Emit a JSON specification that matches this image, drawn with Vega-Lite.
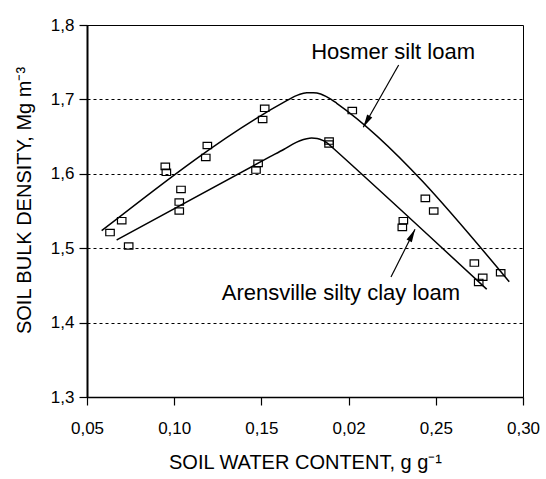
{
  "$schema": "https://vega.github.io/schema/vega-lite/v6.json",
  "width": 436,
  "height": 372,
  "autosize": "none",
  "padding": {"left": 87, "top": 25, "right": 23, "bottom": 82},
  "background": "white",
  "config": {
    "view": {"stroke": "#000", "strokeWidth": 1},
    "font": "Liberation Sans"
  },
  "datasets": {
    "pts": [
      {"soil": "Hosmer", "wc": 0.0632, "bd": 1.521},
      {"soil": "Hosmer", "wc": 0.0699, "bd": 1.537},
      {"soil": "Arensville", "wc": 0.0739, "bd": 1.503},
      {"soil": "Hosmer", "wc": 0.0949, "bd": 1.610},
      {"soil": "Hosmer", "wc": 0.0955, "bd": 1.602},
      {"soil": "Arensville", "wc": 0.1039, "bd": 1.579},
      {"soil": "Arensville", "wc": 0.1029, "bd": 1.562},
      {"soil": "Arensville", "wc": 0.1029, "bd": 1.550},
      {"soil": "Hosmer", "wc": 0.1181, "bd": 1.622},
      {"soil": "Hosmer", "wc": 0.1190, "bd": 1.638},
      {"soil": "Hosmer", "wc": 0.1519, "bd": 1.688},
      {"soil": "Hosmer", "wc": 0.1507, "bd": 1.673},
      {"soil": "Arensville", "wc": 0.1481, "bd": 1.614},
      {"soil": "Arensville", "wc": 0.1469, "bd": 1.605},
      {"soil": "Hosmer", "wc": 0.2021, "bd": 1.685},
      {"soil": "Arensville", "wc": 0.1888, "bd": 1.644},
      {"soil": "Arensville", "wc": 0.1888, "bd": 1.640},
      {"soil": "Hosmer", "wc": 0.2440, "bd": 1.567},
      {"soil": "Hosmer", "wc": 0.2488, "bd": 1.550},
      {"soil": "Arensville", "wc": 0.2314, "bd": 1.537},
      {"soil": "Arensville", "wc": 0.2308, "bd": 1.528},
      {"soil": "Hosmer", "wc": 0.2721, "bd": 1.480},
      {"soil": "Arensville", "wc": 0.2769, "bd": 1.461},
      {"soil": "Arensville", "wc": 0.2746, "bd": 1.454},
      {"soil": "Hosmer", "wc": 0.2872, "bd": 1.467}
    ],
    "curves": [
      {"soil": "Hosmer", "ord": 1, "wc": 0.0584, "bd": 1.5235},
      {"soil": "Hosmer", "ord": 2, "wc": 0.1645, "bd": 1.6983},
      {"soil": "Hosmer", "ord": 3, "wc": 0.1690, "bd": 1.7040},
      {"soil": "Hosmer", "ord": 4, "wc": 0.1721, "bd": 1.7070},
      {"soil": "Hosmer", "ord": 5, "wc": 0.1760, "bd": 1.7088},
      {"soil": "Hosmer", "ord": 6, "wc": 0.1798, "bd": 1.7090},
      {"soil": "Hosmer", "ord": 7, "wc": 0.1840, "bd": 1.7072},
      {"soil": "Hosmer", "ord": 8, "wc": 0.1870, "bd": 1.7040},
      {"soil": "Hosmer", "ord": 9, "wc": 0.1900, "bd": 1.7000},
      {"soil": "Hosmer", "ord": 10, "wc": 0.1932, "bd": 1.6948},
      {"soil": "Hosmer", "ord": 11, "wc": 0.2921, "bd": 1.4550},
      {"soil": "Arensville", "ord": 1, "wc": 0.0670, "bd": 1.5110},
      {"soil": "Arensville", "ord": 2, "wc": 0.1550, "bd": 1.6230},
      {"soil": "Arensville", "ord": 3, "wc": 0.1630, "bd": 1.6330},
      {"soil": "Arensville", "ord": 4, "wc": 0.1680, "bd": 1.6400},
      {"soil": "Arensville", "ord": 5, "wc": 0.1721, "bd": 1.6445},
      {"soil": "Arensville", "ord": 6, "wc": 0.1760, "bd": 1.6472},
      {"soil": "Arensville", "ord": 7, "wc": 0.1788, "bd": 1.6480},
      {"soil": "Arensville", "ord": 8, "wc": 0.1820, "bd": 1.6475},
      {"soil": "Arensville", "ord": 9, "wc": 0.1855, "bd": 1.6445},
      {"soil": "Arensville", "ord": 10, "wc": 0.1885, "bd": 1.6400},
      {"soil": "Arensville", "ord": 11, "wc": 0.1912, "bd": 1.6343},
      {"soil": "Arensville", "ord": 12, "wc": 0.2792, "bd": 1.4448}
    ],
    "arrows": [
      {"wc": 0.2287, "bd": 1.7462, "wc2": 0.2084, "bd2": 1.6625},
      {"wc": 0.2243, "bd": 1.4613, "wc2": 0.2381, "bd2": 1.5254}
    ],
    "heads": [
      {"wc": 0.2084, "bd": 1.6625, "ang": 209.8},
      {"wc": 0.2381, "bd": 1.5254, "ang": 26.7}
    ],
    "labels": [
      {"wc": 0.2255, "bd": 1.7543, "label": "Hosmer silt loam"},
      {"wc": 0.1956, "bd": 1.4304, "label": "Arensville silty clay loam"}
    ]
  },
  "encoding": {
    "x": {
      "field": "wc",
      "type": "quantitative",
      "scale": {"domain": [0.05, 0.3], "nice": false, "zero": false},
      "axis": {
        "title": "SOIL WATER CONTENT, g g⁻¹",
        "values": [0.05, 0.1, 0.15, 0.2, 0.25, 0.3],
        "labelExpr": "datum.value > 0.19 && datum.value < 0.21 ? '0,02' : replace(format(datum.value, '.2f'), '.', ',')",
        "grid": false,
        "domainColor": "#000",
        "domainWidth": 1.6,
        "tickColor": "#000",
        "tickWidth": 1.2,
        "tickSize": 8,
        "labelFont": "Liberation Sans",
        "labelFontSize": 17,
        "labelColor": "#000",
        "labelPadding": 15,
        "labelFlush": false,
        "titleFont": "Liberation Sans",
        "titleFontSize": 20,
        "titleFontWeight": "normal",
        "titleColor": "#000",
        "titlePadding": 16
      }
    },
    "y": {
      "field": "bd",
      "type": "quantitative",
      "scale": {"domain": [1.3, 1.8], "nice": false, "zero": false},
      "axis": {
        "title": "SOIL BULK DENSITY, Mg m⁻³",
        "values": [1.3, 1.4, 1.5, 1.6, 1.7, 1.8],
        "labelExpr": "replace(format(datum.value, '.1f'), '.', ',')",
        "grid": true,
        "gridColor": "#000",
        "gridDash": [3, 3],
        "gridWidth": 1,
        "domainColor": "#000",
        "domainWidth": 2,
        "tickColor": "#000",
        "tickWidth": 1.2,
        "tickSize": 8,
        "labelFont": "Liberation Sans",
        "labelFontSize": 17,
        "labelColor": "#000",
        "labelPadding": 5,
        "labelFlush": false,
        "titleFont": "Liberation Sans",
        "titleFontSize": 20,
        "titleFontWeight": "normal",
        "titleColor": "#000",
        "titlePadding": 16,
        "titleY": 175
      }
    }
  },
  "layer": [
    {
      "data": {"name": "curves"},
      "mark": {"type": "line", "interpolate": "monotone", "color": "#000", "strokeWidth": 1.5},
      "encoding": {
        "detail": {"field": "soil"},
        "order": {"field": "ord", "type": "quantitative"}
      }
    },
    {
      "data": {"name": "pts"},
      "mark": {"type": "point", "shape": "M-1,-0.75H1V0.75H-1Z", "filled": false, "stroke": "#000", "strokeWidth": 1.2, "size": 72, "opacity": 1}
    },
    {
      "data": {"name": "arrows"},
      "mark": {"type": "rule", "color": "#000", "strokeWidth": 1.2},
      "encoding": {
        "x2": {"field": "wc2"},
        "y2": {"field": "bd2"}
      }
    },
    {
      "data": {"name": "heads"},
      "mark": {"type": "point", "shape": "M0,0L0.45,2L-0.45,2Z", "filled": true, "color": "#000", "size": 169, "opacity": 1},
      "encoding": {
        "angle": {"field": "ang", "type": "quantitative", "scale": null}
      }
    },
    {
      "data": {"name": "labels"},
      "mark": {"type": "text", "font": "Liberation Sans", "fontSize": 22, "color": "#000", "align": "center", "baseline": "alphabetic"},
      "encoding": {
        "text": {"field": "label"}
      }
    }
  ]
}
